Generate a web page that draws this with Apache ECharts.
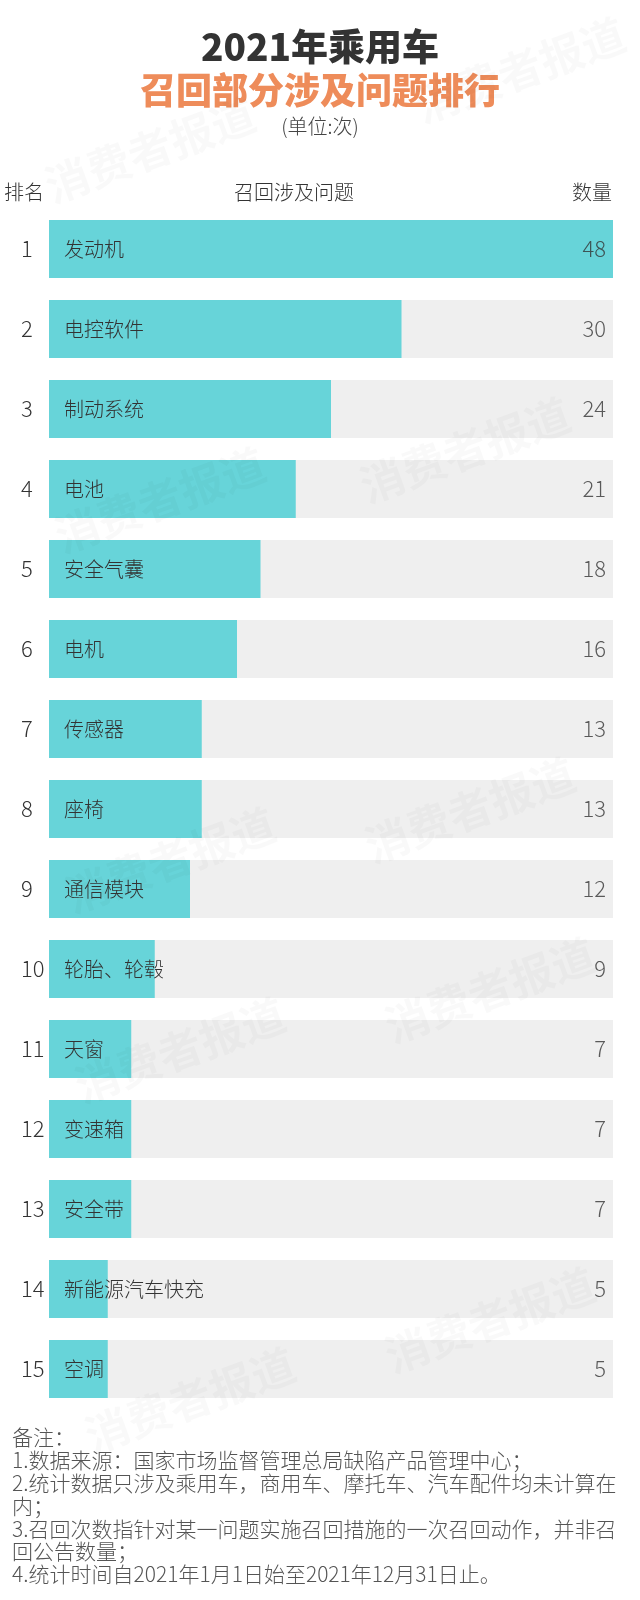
<!DOCTYPE html>
<html>
<head>
<meta charset="utf-8">
<script src="https://cdn.jsdelivr.net/npm/echarts@6/dist/echarts.min.js"></script>
<style>
html,body{margin:0;padding:0;background:#fff;}
#chart{width:640px;height:1600px;}
</style>
</head>
<body>
<div id="chart"></div>
<script>
const ranks = ['1','2','3','4','5','6','7','8','9','10','11','12','13','14','15'];
const names = ['发动机','电控软件','制动系统','电池','安全气囊','电机','传感器','座椅','通信模块','轮胎、轮毂','天窗','变速箱','安全带','新能源汽车快充','空调'];
const values = [48,30,24,21,18,16,13,13,12,9,7,7,7,5,5];
const titleLine1 = '2021年乘用车';
const titleLine2 = '召回部分涉及问题排行';
const unitText = '(单位:次)';
const headers = ['排名','召回涉及问题','数量'];
const notes = [
  '备注：',
  '1.数据来源：国家市场监督管理总局缺陷产品管理中心；',
  '2.统计数据只涉及乘用车，商用车、摩托车、汽车配件均未计算在',
  '内；',
  '3.召回次数指针对某一问题实施召回措施的一次召回动作，并非召',
  '回公告数量；',
  '4.统计时间自2021年1月1日始至2021年12月31日止。'
];
const watermark = '消费者报道';

const FONT = '"Noto Sans CJK SC", "Noto Sans", sans-serif';
const XMAX = Math.max(...values);

const chart = echarts.init(document.getElementById('chart'), null, {renderer: 'canvas'});

const wmPos = [[150,150],[520,70],[465,450],[160,500],[470,810],[170,860],[490,990],[180,1050],[490,1320],[190,1400]];
const graphics = [];
graphics.push({type:'text', left:'center', top:28, style:{text:titleLine1, font:'900 37px ' + FONT, fill:'#333333'}});
graphics.push({type:'text', left:'center', top:72, style:{text:titleLine2, font:'900 36px ' + FONT, fill:'#EE8C5A'}});
graphics.push({type:'text', left:'center', top:116, style:{text:unitText, font:'300 20px ' + FONT, fill:'#444444'}});
graphics.push({type:'text', x:4, y:192, style:{text:headers[0], font:'300 20px ' + FONT, fill:'#333333', textAlign:'left', textVerticalAlign:'middle'}});
graphics.push({type:'text', x:294, y:192, style:{text:headers[1], font:'300 20px ' + FONT, fill:'#333333', textAlign:'center', textVerticalAlign:'middle'}});
graphics.push({type:'text', x:612, y:192, style:{text:headers[2], font:'300 20px ' + FONT, fill:'#333333', textAlign:'right', textVerticalAlign:'middle'}});
graphics.push({type:'text', x:12, y:1426, style:{text:notes.join('\n'), font:'300 21px ' + FONT, fill:'#555555', lineHeight:22.8, textAlign:'left', textVerticalAlign:'top'}});
wmPos.forEach(p => {
  graphics.push({type:'text', x:p[0], y:p[1], rotation:0.35, z:100, silent:true,
    style:{text:watermark, font:'bold 44px ' + FONT, fill:'rgba(0,0,0,0.025)', textAlign:'center', textVerticalAlign:'middle'}});
});

chart.setOption({
  backgroundColor:'#ffffff',
  animation:false,
  grid:{left:49, right:27, top:209, height:1200, containLabel:false},
  xAxis:{type:'value', min:0, max:XMAX, show:false},
  yAxis:{type:'category', data:ranks, inverse:true,
    axisLine:{show:false}, axisTick:{show:false}, splitLine:{show:false},
    axisLabel:{align:'left', margin:28, fontSize:22, color:'#333333', fontFamily:FONT, fontWeight:300}},
  graphic:graphics,
  series:[
    {type:'bar', data:values, barWidth:58,
      itemStyle:{color:'#67D4D9'},
      showBackground:true, backgroundStyle:{color:'#EFEFEF'},
      label:{show:true, position:'insideLeft', distance:15, color:'#333333', fontSize:20, fontFamily:FONT, fontWeight:300,
        formatter:p => names[p.dataIndex]}},
    {type:'scatter', data:ranks.map((r,i) => [XMAX, r]), symbolSize:0, silent:true,
      label:{show:true, position:'left', distance:7, color:'#333333', fontSize:22, fontFamily:FONT, fontWeight:300,
        formatter:p => String(values[p.dataIndex])}}
  ]
});
</script>
</body>
</html>
